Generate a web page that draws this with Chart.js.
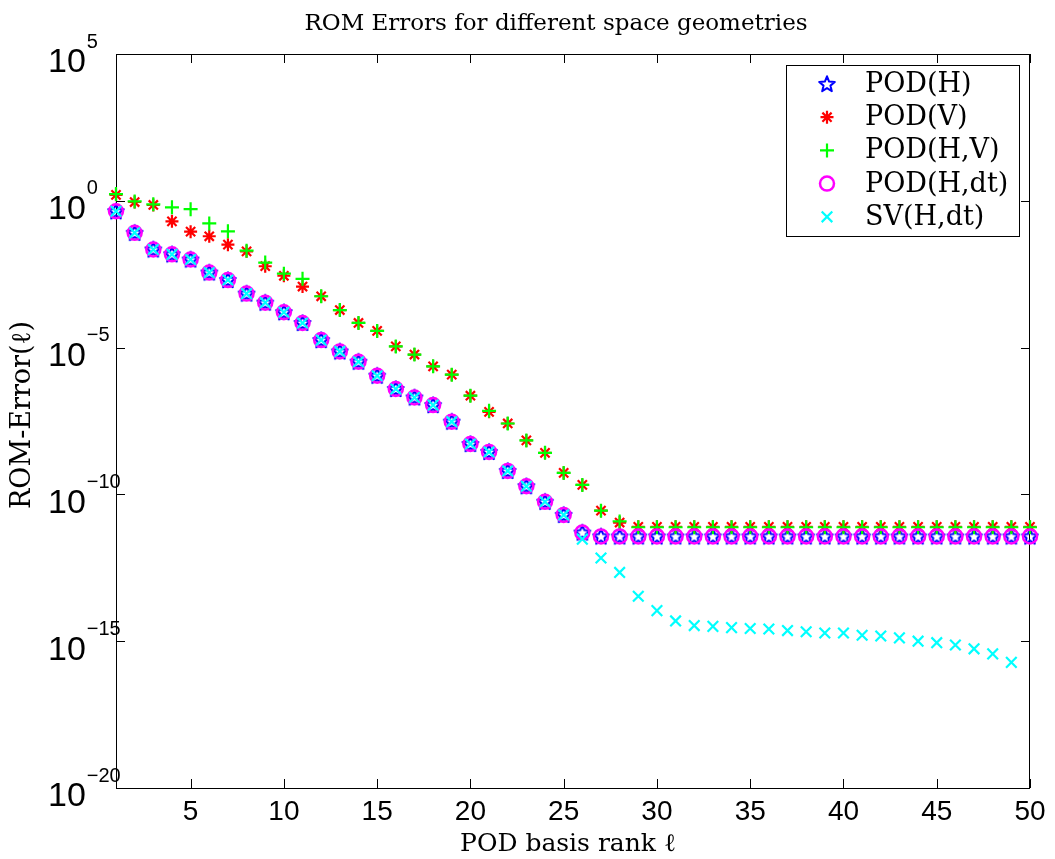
<!DOCTYPE html>
<html lang="en">
<head>
<meta charset="UTF-8">
<title>ROM Errors for different space geometries</title>
<script src="https://cdn.jsdelivr.net/npm/chart.js"></script>
<style>
  html, body { margin: 0; padding: 0; background: #fff; }
  #wrap { width: 1055px; height: 859px; position: relative; }
</style>
</head>
<body>
<div id="wrap"><canvas id="grafico"></canvas></div>
<script>
// POD basis rank
const ranks = [1, 2, 3, 4, 5, 6, 7, 8, 9, 10, 11, 12, 13, 14, 15, 16, 17, 18, 19, 20,
  21, 22, 23, 24, 25, 26, 27, 28, 29, 30, 31, 32, 33, 34, 35, 36, 37, 38, 39, 40,
  41, 42, 43, 44, 45, 46, 47, 48, 49, 50];

const podH = [4.4e-1, 8.1e-2, 2.2e-2, 1.5e-2, 1.0e-2, 3.6e-3, 2.0e-3, 6.9e-4, 3.4e-4, 1.6e-4,
  6.9e-5, 1.8e-5, 7.4e-6, 3.3e-6, 1.1e-6, 3.9e-7, 2.0e-7, 1.1e-7, 3.0e-8, 5.2e-9,
  2.8e-9, 6.3e-10, 1.9e-10, 5.6e-11, 2.0e-11, 5.0e-12, 3.7e-12, 3.7e-12, 3.7e-12, 3.7e-12,
  3.7e-12, 3.7e-12, 3.7e-12, 3.7e-12, 3.7e-12, 3.7e-12, 3.7e-12, 3.7e-12, 3.7e-12, 3.7e-12,
  3.7e-12, 3.7e-12, 3.7e-12, 3.7e-12, 3.7e-12, 3.7e-12, 3.7e-12, 3.7e-12, 3.7e-12, 3.7e-12];

const podV = [1.6, 9.1e-1, 7.2e-1, 2.0e-1, 8.9e-2, 6.2e-2, 3.2e-2, 1.9e-2, 5.9e-3, 2.8e-3,
  1.2e-3, 5.6e-4, 1.9e-4, 6.9e-5, 3.7e-5, 1.1e-5, 5.8e-6, 2.3e-6, 1.2e-6, 2.3e-7,
  6.5e-8, 2.6e-8, 6.9e-9, 2.6e-9, 5.4e-10, 2.1e-10, 2.8e-11, 1.1e-11, 7.9e-12, 7.9e-12,
  7.9e-12, 7.9e-12, 7.9e-12, 7.9e-12, 7.9e-12, 7.9e-12, 7.9e-12, 7.9e-12, 7.9e-12, 7.9e-12,
  7.9e-12, 7.9e-12, 7.9e-12, 7.9e-12, 7.9e-12, 7.9e-12, 7.9e-12, 7.9e-12, 7.9e-12, 7.9e-12];

const podHV = [1.7, 9.5e-1, 7.6e-1, 6.0e-1, 5.2e-1, 1.7e-1, 9.1e-2, 2.0e-2, 7.9e-3, 3.3e-3,
  2.2e-3, 5.6e-4, 1.9e-4, 6.9e-5, 3.7e-5, 1.1e-5, 5.8e-6, 2.3e-6, 1.2e-6, 2.3e-7,
  7.0e-8, 2.6e-8, 6.9e-9, 2.6e-9, 5.4e-10, 2.1e-10, 2.8e-11, 1.2e-11, 7.6e-12, 7.6e-12,
  7.6e-12, 7.6e-12, 7.6e-12, 7.6e-12, 7.6e-12, 7.6e-12, 7.6e-12, 7.6e-12, 7.6e-12, 7.6e-12,
  7.6e-12, 7.6e-12, 7.6e-12, 7.6e-12, 7.6e-12, 7.6e-12, 7.6e-12, 7.6e-12, 7.6e-12, 7.6e-12];

const podHdt = [4.4e-1, 8.1e-2, 2.2e-2, 1.5e-2, 1.0e-2, 3.6e-3, 2.0e-3, 6.9e-4, 3.4e-4, 1.6e-4,
  6.9e-5, 1.8e-5, 7.4e-6, 3.3e-6, 1.1e-6, 3.9e-7, 2.0e-7, 1.1e-7, 3.0e-8, 5.2e-9,
  2.8e-9, 6.3e-10, 1.9e-10, 5.6e-11, 2.0e-11, 5.0e-12, 3.7e-12, 3.7e-12, 3.7e-12, 3.7e-12,
  3.7e-12, 3.7e-12, 3.7e-12, 3.7e-12, 3.7e-12, 3.7e-12, 3.7e-12, 3.7e-12, 3.7e-12, 3.7e-12,
  3.7e-12, 3.7e-12, 3.7e-12, 3.7e-12, 3.7e-12, 3.7e-12, 3.7e-12, 3.7e-12, 3.7e-12, 3.7e-12];

const svHdt = [4.4e-1, 8.1e-2, 2.2e-2, 1.5e-2, 1.0e-2, 3.6e-3, 2.0e-3, 6.9e-4, 3.4e-4, 1.6e-4,
  6.9e-5, 1.8e-5, 7.4e-6, 3.3e-6, 1.1e-6, 3.9e-7, 2.0e-7, 1.1e-7, 3.0e-8, 5.2e-9,
  2.8e-9, 6.3e-10, 1.9e-10, 5.6e-11, 2.0e-11, 3.0e-12, 6.8e-13, 2.2e-13, 3.4e-14, 1.1e-14,
  4.9e-15, 3.4e-15, 3.2e-15, 2.9e-15, 2.7e-15, 2.6e-15, 2.3e-15, 2.1e-15, 1.9e-15, 1.9e-15,
  1.6e-15, 1.5e-15, 1.3e-15, 1.0e-15, 8.9e-16, 7.4e-16, 5.5e-16, 3.7e-16, 1.9e-16];

const seriesNames = ['POD(H)', 'POD(V)', 'POD(H,V)', 'POD(H,dt)', 'SV(H,dt)'];
const xTicks = [5, 10, 15, 20, 25, 30, 35, 40, 45, 50];
const yTicks = [1e5, 1e0, 1e-5, 1e-10, 1e-15, 1e-20];

// pentagrama do MATLAB (o Chart.js nao tem esse marcador)
function estrela(cor) {
  const c = document.createElement('canvas');
  c.width = 20; c.height = 20;
  const g = c.getContext('2d');
  g.strokeStyle = cor;
  g.lineWidth = 2;
  g.lineJoin = 'round';
  g.beginPath();
  for (let i = 0; i < 10; i++) {
    const r = i % 2 ? 3.6 : 8.2;
    const ang = -Math.PI / 2 + i * Math.PI / 5;
    const px = 10 + r * Math.cos(ang), py = 10.5 + r * Math.sin(ang);
    if (i === 0) g.moveTo(px, py); else g.lineTo(px, py);
  }
  g.closePath();
  g.stroke();
  return c;
}

function pontos(valores) {
  return valores.map((v, i) => ({ x: ranks[i], y: v }));
}

const estilos = [
  { cor: '#0000ff', pointStyle: estrela('#0000ff'), radius: 8, borderWidth: 2 },
  { cor: '#ff0000', pointStyle: 'star', radius: 6.5, borderWidth: 2.2 },
  { cor: '#00ff00', pointStyle: 'cross', radius: 7, borderWidth: 2.2 },
  { cor: '#ff00ff', pointStyle: 'circle', radius: 7, borderWidth: 2.5 },
  { cor: '#00ffff', pointStyle: 'crossRot', radius: 7.5, borderWidth: 2.2 }
];
const valores = [podH, podV, podHV, podHdt, svHdt];

const datasets = valores.map((v, i) => ({
  label: seriesNames[i],
  data: pontos(v),
  showLine: false,
  pointStyle: estilos[i].pointStyle,
  pointRadius: estilos[i].radius,
  pointBorderWidth: estilos[i].borderWidth,
  borderColor: estilos[i].cor,
  backgroundColor: 'rgba(0,0,0,0)',
  clip: false,
  order: 5 - i
}));

// eixos, caixa, rotulos e legenda no estilo do MATLAB
const eixosMatlab = {
  id: 'eixosMatlab',
  beforeDatasetsDraw(chart) {
    const { ctx, chartArea: a, scales } = chart;
    ctx.save();
    ctx.strokeStyle = '#000';
    ctx.lineWidth = 1;
    ctx.strokeRect(a.left + 0.5, a.top + 0.5, a.right - a.left - 1, a.bottom - a.top);
    ctx.beginPath();
    scales.x.ticks.forEach(t => {
      const px = Math.round(scales.x.getPixelForValue(t.value)) + 0.5;
      ctx.moveTo(px, a.bottom); ctx.lineTo(px, a.bottom - 9);
      ctx.moveTo(px, a.top); ctx.lineTo(px, a.top + 9);
    });
    scales.y.ticks.forEach(t => {
      const py = Math.round(scales.y.getPixelForValue(t.value)) + 0.5;
      ctx.moveTo(a.left, py); ctx.lineTo(a.left + 9, py);
      ctx.moveTo(a.right, py); ctx.lineTo(a.right - 9, py);
    });
    ctx.stroke();

    // rotulos do eixo y: 10^n
    ctx.fillStyle = '#000';
    ctx.textAlign = 'left';
    ctx.textBaseline = 'middle';
    scales.y.ticks.forEach(t => {
      const py = scales.y.getPixelForValue(t.value);
      const expo = Math.round(Math.log10(t.value));
      ctx.font = '34px "Liberation Sans"';
      ctx.fillText('10', 48, py + 9);
      const w = ctx.measureText('10').width;
      ctx.font = '20px "Liberation Sans"';
      ctx.fillText(expo < 0 ? '\u2212' + (-expo) : String(expo), 48 + w + 1, py - 12);
    });

    // titulos
    ctx.textAlign = 'center';
    ctx.font = '23px "DejaVu Serif"';
    ctx.fillText('ROM Errors for different space geometries', 556, 24);
    ctx.font = '25px "DejaVu Serif"';
    ctx.fillText('POD basis rank \u2113', 568, 844);
    ctx.save();
    ctx.translate(23, 415);
    ctx.rotate(-Math.PI / 2);
    ctx.font = '27px "DejaVu Serif"';
    ctx.fillText('ROM-Error(\u2113)', 0, 0);
    ctx.restore();
    ctx.restore();
  },
  afterDraw(chart) {
    const { ctx } = chart;
    ctx.save();
    ctx.fillStyle = '#fff';
    ctx.fillRect(786, 65, 233, 171);
    ctx.strokeStyle = '#000';
    ctx.lineWidth = 1;
    ctx.strokeRect(786.5, 65.5, 233, 171);
    ctx.textAlign = 'left';
    ctx.textBaseline = 'middle';
    seriesNames.forEach((nome, i) => {
      const y = 84 + i * 33.2;
      ctx.strokeStyle = estilos[i].cor;
      ctx.fillStyle = 'rgba(0,0,0,0)';
      ctx.lineWidth = estilos[i].borderWidth;
      Chart.helpers.drawPoint(ctx, {
        pointStyle: estilos[i].pointStyle,
        radius: estilos[i].radius,
        borderWidth: estilos[i].borderWidth,
        rotation: 0
      }, 827, y);
      ctx.font = '27px "DejaVu Serif"';
      ctx.fillStyle = '#000';
      ctx.fillText(nome, 865, y + 1);
    });
    ctx.restore();
  }
};

new Chart(document.getElementById('grafico'), {
  type: 'scatter',
  data: { datasets: datasets },
  options: {
    responsive: true,
    maintainAspectRatio: false,
    animation: false,
    layout: { padding: { top: 54, right: 25, left: 0, bottom: 0 } },
    plugins: {
      legend: { display: false },
      tooltip: { enabled: false }
    },
    scales: {
      x: {
        type: 'linear',
        min: 1,
        max: 50,
        grid: { display: false, drawTicks: false },
        border: { display: false },
        ticks: {
          color: '#000',
          font: { family: 'Liberation Sans', size: 28 },
          padding: 7,
          maxRotation: 0
        },
        afterBuildTicks: s => { s.ticks = xTicks.map(v => ({ value: v })); },
        afterFit: s => { s.height = 71; }
      },
      y: {
        type: 'logarithmic',
        min: 1e-20,
        max: 1e5,
        grid: { display: false, drawTicks: false },
        border: { display: false },
        ticks: { display: false },
        afterBuildTicks: s => { s.ticks = yTicks.map(v => ({ value: v })); },
        afterFit: s => { s.width = 116; }
      }
    }
  },
  plugins: [eixosMatlab]
});
</script>
</body>
</html>
